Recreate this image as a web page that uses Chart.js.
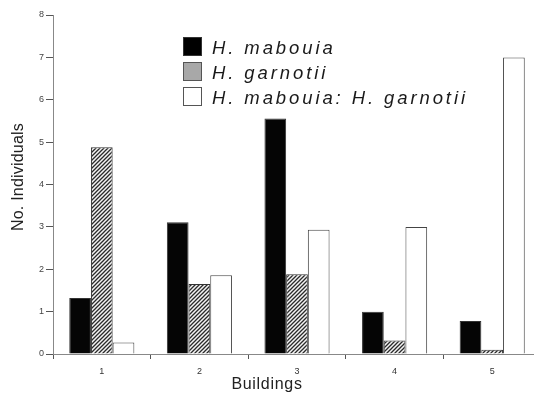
<!DOCTYPE html>
<html>
<head>
<meta charset="utf-8">
<script src="https://cdn.jsdelivr.net/npm/chart.js@4"></script>
<style>
  html, body { margin: 0; padding: 0; background: #fff; overflow: hidden; }
  #wrap { position: relative; width: 541px; height: 393px; }
  #chart { position: absolute; left: 0; top: 0; }
  .lbl { position: absolute; font-family: "Liberation Sans", Arial, sans-serif; color: #222; white-space: nowrap; }
  .legrow { position: absolute; left: 183px; height: 19px; }
  .legbox { position: absolute; left: 0; top: 0; width: 17px; height: 17px; border: 1px solid #333; }
  .legtxt { position: absolute; left: 29px; top: 1px; font-family: "Liberation Sans", Arial, sans-serif; font-style: italic; font-size: 18.5px; line-height: 19px; letter-spacing: 2.9px; color: #1a1a1a; white-space: nowrap; }
</style>
</head>
<body>
<div id="wrap">
  <canvas id="chart" width="541" height="393"></canvas>
  <div class="legrow" style="top:37px"><div class="legbox" style="background:#000"></div><div class="legtxt" id="l0"></div></div>
  <div class="legrow" style="top:62px"><div class="legbox" style="background:#a8a8a8;border-color:#555"></div><div class="legtxt" id="l1"></div></div>
  <div class="legrow" style="top:87px"><div class="legbox" style="background:#fff;border-color:#555"></div><div class="legtxt" id="l2"></div></div>
  <div class="lbl" id="xt" style="font-size:16px;letter-spacing:0.7px;left:0;width:534px;text-align:center;top:375px;line-height:18px"></div>
  <div class="lbl" id="yt" style="font-size:16px;letter-spacing:0.2px;left:-42px;top:168px;width:120px;text-align:center;line-height:18px;transform:rotate(-90deg);transform-origin:60px 9px"></div>
</div>
<script>
const categories = ["1", "2", "3", "4", "5"];
const seriesNames = ["H. mabouia", "H. garnotii", "H. mabouia: H. garnotii"];
const mabouia = [1.32, 3.11, 5.56, 1.0, 0.78];
const garnotii = [4.88, 1.65, 1.88, 0.32, 0.1];
const mixed = [0.27, 1.86, 2.93, 3.0, 7.0];
const yTicks = [0, 1, 2, 3, 4, 5, 6, 7, 8];
const xTitle = "Buildings";
const yTitle = "No. Individuals";

document.getElementById('l0').textContent = seriesNames[0];
document.getElementById('l1').textContent = seriesNames[1];
document.getElementById('l2').textContent = seriesNames[2];
document.getElementById('xt').textContent = xTitle;
document.getElementById('yt').textContent = yTitle;

function hatch() {
  const c = document.createElement('canvas');
  c.width = 4; c.height = 4;
  const g = c.getContext('2d');
  g.fillStyle = '#f4f4f4';
  g.fillRect(0, 0, 4, 4);
  g.strokeStyle = '#2a2a2a';
  g.lineWidth = 1.3;
  g.beginPath();
  g.moveTo(-1, 5); g.lineTo(5, -1);
  g.moveTo(-1, 1); g.lineTo(1, -1);
  g.moveTo(3, 5); g.lineTo(5, 3);
  g.stroke();
  return g.createPattern(c, 'repeat');
}

const ctx = document.getElementById('chart').getContext('2d');
const common = { barPercentage: 1.0, categoryPercentage: 0.667, borderWidth: 1, borderSkipped: 'bottom' };
new Chart(ctx, {
  type: 'bar',
  data: {
    labels: categories,
    datasets: [
      Object.assign({ label: seriesNames[0], data: mabouia, backgroundColor: '#050505', borderColor: '#333' }, common),
      Object.assign({ label: seriesNames[1], data: garnotii, backgroundColor: hatch(), borderColor: '#333' }, common),
      Object.assign({ label: seriesNames[2], data: mixed, backgroundColor: '#ffffff', borderColor: '#444' }, common)
    ]
  },
  options: {
    responsive: false,
    animation: false,
    events: [],
    layout: { padding: { left: 0, right: 0, top: 15, bottom: 0 } },
    plugins: { legend: { display: false }, tooltip: { enabled: false } },
    scales: {
      x: {
        offset: true,
        grid: { display: true, offset: true, drawOnChartArea: false, tickLength: 5, color: '#888', tickColor: '#555' },
        border: { display: true, color: '#888', width: 1 },
        ticks: { color: '#333', font: { family: 'Liberation Sans, Arial, sans-serif', size: 9 }, padding: 7, maxRotation: 0 },
        afterFit: s => { s.height = 39; }
      },
      y: {
        min: 0, max: 8,
        afterBuildTicks: s => { s.ticks = yTicks.map(v => ({ value: v })); },
        grid: { display: true, drawOnChartArea: false, tickLength: 7, color: '#888', tickColor: '#555' },
        border: { display: true, color: '#888', width: 1 },
        ticks: { color: '#444', font: { family: 'Liberation Sans, Arial, sans-serif', size: 9 }, padding: 2 },
        afterFit: s => { s.width = 53; }
      }
    }
  }
});
</script>
</body>
</html>
